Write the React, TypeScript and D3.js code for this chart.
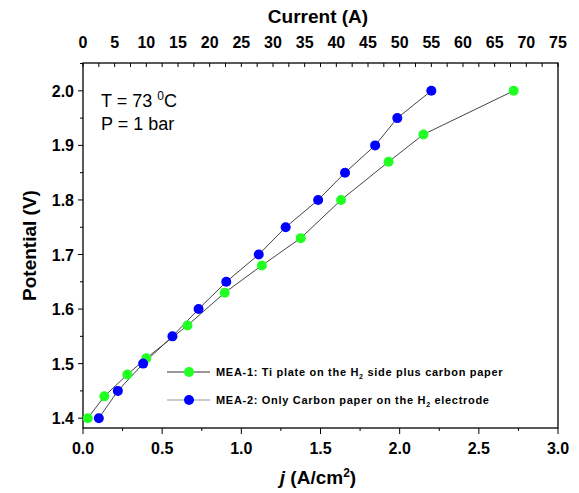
import * as d3 from "d3";

// MEA-1: Ti plate on the H2 side plus carbon paper
const mea1J = [0.03, 0.135, 0.28, 0.4, 0.66, 0.895, 1.13, 1.375, 1.63, 1.93, 2.15, 2.72];
const mea1V = [1.4, 1.44, 1.48, 1.51, 1.57, 1.63, 1.68, 1.73, 1.8, 1.87, 1.92, 2.0];

// MEA-2: Only Carbon paper on the H2 electrode
const mea2J = [0.1, 0.22, 0.38, 0.565, 0.73, 0.905, 1.11, 1.28, 1.485, 1.655, 1.845, 1.985, 2.2];
const mea2V = [1.4, 1.45, 1.5, 1.55, 1.6, 1.65, 1.7, 1.75, 1.8, 1.85, 1.9, 1.95, 2.0];

const jTicks = [0, 0.5, 1.0, 1.5, 2.0, 2.5, 3.0];
const vTicks = [1.4, 1.5, 1.6, 1.7, 1.8, 1.9, 2.0];
const currentTicks = [0, 5, 10, 15, 20, 25, 30, 35, 40, 45, 50, 55, 60, 65, 70, 75];

const W = 579;
const H = 493;
const m = { left: 83, right: 558, top: 63, bottom: 428 };
const font = "'Liberation Sans', Arial, sans-serif";

export default function App() {
  const x = d3.scaleLinear().domain([0, 3]).range([m.left, m.right]);
  const xTop = d3.scaleLinear().domain([0, 75]).range([m.left, m.right]);
  const y = d3.scaleLinear().domain([1.382, 2.051]).range([m.bottom, m.top]);

  const s1 = mea1J.map((j, i) => [j, mea1V[i]] as [number, number]);
  const s2 = mea2J.map((j, i) => [j, mea2V[i]] as [number, number]);
  const line = d3
    .line<[number, number]>()
    .x((d) => x(d[0]))
    .y((d) => y(d[1]));

  const xMinor = d3.range(0, 3.001, 0.25);
  const yMinor = d3.range(1.4, 2.051, 0.05);
  const topMinor = d3.range(0, 75.001, 2.5);

  return (
    <svg width={W} height={H} style={{ position: "absolute", left: 0, top: 0 }} fontFamily={font}>
      <rect width={W} height={H} fill="#fff" />

      {/* frame */}
      <rect x={m.left} y={m.top} width={m.right - m.left} height={m.bottom - m.top} fill="none" stroke="#000" strokeWidth={1.3} />

      {/* bottom axis */}
      {xMinor.map((t, i) => (
        <line key={"xm" + i} x1={x(t)} x2={x(t)} y1={m.bottom} y2={m.bottom + (i % 2 === 0 ? 6 : 3)} stroke="#000" />
      ))}
      {jTicks.map((t) => (
        <text key={"xt" + t} x={x(t)} y={454} textAnchor="middle" fontSize={16} fontWeight="bold">
          {t.toFixed(1)}
        </text>
      ))}
      <text x={318} y={484} textAnchor="middle" fontSize={19} fontWeight="bold">
        <tspan fontStyle="italic">j</tspan> (A/cm
        <tspan dy={-7} fontSize={12}>2</tspan>
        <tspan dy={7}>)</tspan>
      </text>

      {/* top axis */}
      {topMinor.map((t, i) => (
        <line key={"tm" + i} x1={xTop(t)} x2={xTop(t)} y1={m.top} y2={m.top + 4} stroke="#000" />
      ))}
      {currentTicks.map((t) => (
        <text key={"tt" + t} x={xTop(t)} y={48} textAnchor="middle" fontSize={16} fontWeight="bold">
          {t}
        </text>
      ))}
      <text x={318} y={23} textAnchor="middle" fontSize={19} fontWeight="bold">
        Current (A)
      </text>

      {/* left axis */}
      {yMinor.map((t, i) => (
        <line key={"ym" + i} x1={m.left} x2={m.left - (i % 2 === 0 ? 5 : 3)} y1={y(t)} y2={y(t)} stroke="#000" />
      ))}
      {vTicks.map((t) => (
        <text key={"yt" + t} x={74} y={y(t) + 6} textAnchor="end" fontSize={16} fontWeight="bold">
          {t.toFixed(1)}
        </text>
      ))}
      <text transform={`translate(36,${(m.top + m.bottom) / 2}) rotate(-90)`} textAnchor="middle" fontSize={19} fontWeight="bold">
        Potential (V)
      </text>

      {/* conditions */}
      <text x={101} y={107} fontSize={18}>
        T = 73 <tspan dy={-7} fontSize={12}>0</tspan>
        <tspan dy={7}>C</tspan>
      </text>
      <text x={101} y={130} fontSize={18}>
        P = 1 bar
      </text>

      {/* series */}
      <path d={line(s1) ?? ""} fill="none" stroke="#444" strokeWidth={1} />
      <path d={line(s2) ?? ""} fill="none" stroke="#444" strokeWidth={1} />
      {s1.map((d, i) => (
        <circle key={"p1" + i} cx={x(d[0])} cy={y(d[1])} r={5} fill="#22ff22" />
      ))}
      {s2.map((d, i) => (
        <circle key={"p2" + i} cx={x(d[0])} cy={y(d[1])} r={5} fill="#0000ff" />
      ))}

      {/* legend */}
      <line x1={167} x2={210} y1={372} y2={372} stroke="#333" strokeWidth={1} />
      <circle cx={189} cy={372} r={5} fill="#22ff22" />
      <text x={216} y={376} fontSize={11} fontWeight="bold" letterSpacing={0.7}>
        MEA-1: Ti plate on the H<tspan dy={3} fontSize={7}>2</tspan>
        <tspan dy={-3}> side plus carbon paper</tspan>
      </text>
      <line x1={167} x2={210} y1={400} y2={400} stroke="#999" strokeWidth={1} />
      <circle cx={189} cy={400} r={5} fill="#0000ff" />
      <text x={216} y={404} fontSize={11} fontWeight="bold" letterSpacing={0.7}>
        MEA-2: Only Carbon paper on the H<tspan dy={3} fontSize={7}>2</tspan>
        <tspan dy={-3}> electrode</tspan>
      </text>
    </svg>
  );
}
